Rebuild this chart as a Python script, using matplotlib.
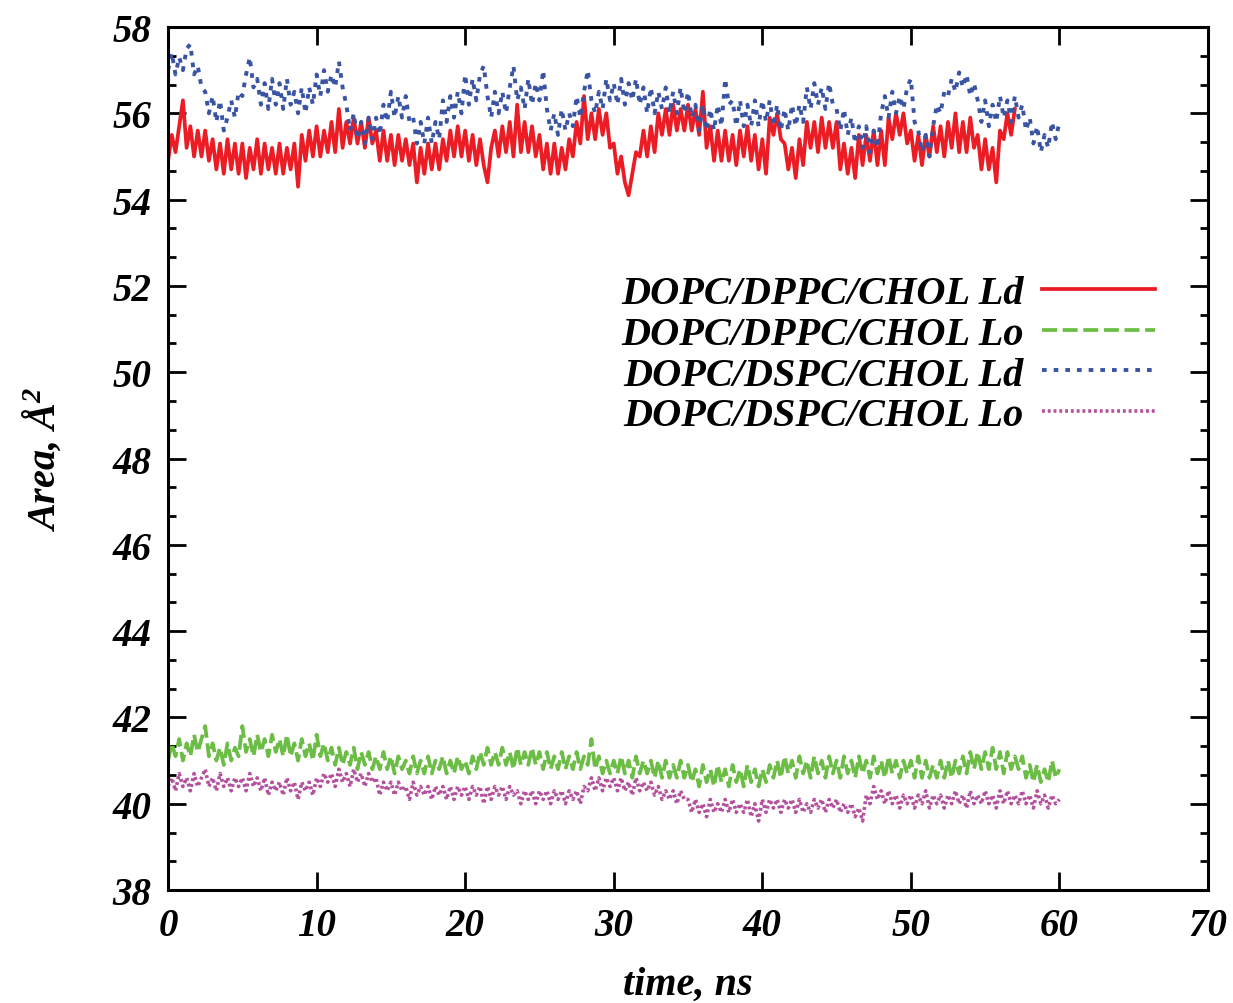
import numpy as np
import matplotlib
matplotlib.use('Agg')
import matplotlib.pyplot as plt
from matplotlib.ticker import AutoMinorLocator

plt.rcParams['font.family'] = ['Liberation Serif', 'DejaVu Serif']
plt.rcParams['font.weight'] = 'bold'
plt.rcParams['font.style'] = 'italic'
plt.rcParams['axes.labelweight'] = 'bold'
plt.rcParams['mathtext.fontset'] = 'custom'
plt.rcParams['mathtext.rm'] = 'Liberation Serif:bold:italic'
plt.rcParams['mathtext.it'] = 'Liberation Serif:bold:italic'

# area per lipid, sampled every 0.25 ns
ld_end = 57.0
run_end = 60.0

dppc_ld = [54.9, 55.5, 55.1, 55.7, 56.3, 55.2, 55.7, 55.0, 55.6, 55.0,
           55.6, 54.9, 55.4, 54.7, 55.3, 54.6, 55.4, 54.7, 55.3, 54.6,
           55.3, 54.5, 55.2, 54.7, 55.4, 54.6, 55.3, 54.7, 55.2, 54.6,
           55.3, 54.6, 55.2, 54.7, 55.3, 54.3, 55.5, 54.9, 55.6, 55.0,
           55.7, 55.0, 55.6, 55.1, 55.8, 55.1, 56.1, 55.2, 55.8, 55.3,
           55.9, 55.3, 55.8, 55.2, 55.9, 55.3, 55.6, 54.9, 55.6, 54.9,
           55.5, 54.8, 55.5, 54.9, 55.4, 54.8, 55.3, 54.4, 55.2, 54.6,
           55.3, 54.7, 55.3, 54.7, 55.4, 54.9, 55.6, 55.0, 55.7, 55.0,
           55.6, 54.9, 55.5, 54.8, 55.4, 54.8, 54.4, 55.2, 55.6, 55.0,
           55.7, 55.1, 55.8, 55.0, 56.2, 55.1, 55.8, 55.1, 55.7, 55.0,
           55.5, 54.7, 55.3, 54.6, 55.3, 54.6, 55.2, 54.7, 55.4, 55.0,
           55.8, 55.3, 56.4, 55.4, 56.0, 55.4, 56.1, 55.5, 56.0, 55.2,
           55.3, 54.6, 55.0, 54.4, 54.1, 54.6, 55.1, 55.0, 55.6, 55.0,
           55.7, 55.1, 56.0, 55.5, 56.1, 55.5, 56.2, 55.6, 56.1, 55.6,
           56.2, 55.6, 56.1, 55.5, 56.5, 55.2, 55.7, 54.9, 55.6, 54.9,
           55.6, 54.9, 55.5, 54.8, 55.6, 55.0, 55.7, 54.9, 55.5, 54.7,
           55.4, 54.6, 55.9, 55.5, 56.0, 55.4, 55.3, 54.7, 55.2, 54.5,
           55.4, 54.8, 55.8, 55.2, 55.8, 55.1, 55.9, 55.2, 55.8, 55.2,
           55.8, 54.7, 55.3, 54.6, 55.2, 54.5, 55.5, 54.8, 55.5, 54.9,
           55.6, 54.8, 55.6, 54.8, 55.9, 55.4, 56.0, 55.5, 56.0, 55.3,
           55.6, 54.9, 55.5, 54.8, 55.5, 55.0, 55.7, 55.1, 55.7, 55.0,
           55.8, 55.2, 56.0, 55.1, 55.8, 55.1, 55.9, 55.2, 55.5, 54.7,
           55.4, 54.7, 55.2, 54.4, 55.6, 55.4, 56.0, 55.5, 56.1]

dppc_lo = [41.0, 41.4, 41.1, 41.5, 41.0, 41.4, 41.1, 41.6, 41.2, 41.5,
           41.8, 41.1, 41.4, 41.0, 41.3, 40.9, 41.4, 41.0, 41.3, 41.1,
           41.8, 41.2, 41.5, 41.1, 41.6, 41.2, 41.5, 41.1, 41.6, 41.2,
           41.5, 41.1, 41.6, 41.1, 41.4, 41.0, 41.5, 41.1, 41.4, 41.0,
           41.6, 41.1, 41.4, 41.0, 41.3, 40.9, 41.3, 40.9, 41.2, 40.9,
           41.3, 40.8, 41.2, 40.9, 41.2, 40.8, 41.1, 40.8, 41.2, 40.8,
           41.1, 40.7, 41.1, 40.8, 41.0, 40.7, 41.1, 40.7, 41.0, 40.7,
           41.1, 40.7, 41.0, 40.8, 41.1, 40.7, 41.0, 40.7, 41.1, 40.8,
           41.0, 40.7, 41.1, 40.8, 41.2, 40.9, 41.3, 40.9, 41.2, 40.9,
           41.3, 40.9, 41.2, 40.8, 41.3, 40.9, 41.2, 40.9, 41.3, 40.9,
           41.2, 40.8, 41.2, 40.8, 41.1, 40.8, 41.2, 40.8, 41.1, 40.8,
           41.2, 40.8, 41.1, 40.9, 41.5, 40.8, 41.1, 40.7, 41.0, 40.7,
           41.0, 40.7, 41.1, 40.7, 41.0, 40.6, 41.1, 40.7, 41.0, 40.7,
           41.0, 40.6, 41.0, 40.6, 41.0, 40.6, 40.9, 40.6, 41.0, 40.6,
           40.9, 40.5, 40.8, 40.4, 40.9, 40.5, 40.8, 40.4, 40.9, 40.5,
           40.8, 40.4, 40.9, 40.5, 40.8, 40.4, 40.9, 40.5, 40.8, 40.4,
           40.8, 40.5, 40.9, 40.6, 41.0, 40.6, 41.1, 40.7, 41.0, 40.6,
           41.1, 40.7, 41.0, 40.6, 41.1, 40.7, 41.0, 40.6, 41.1, 40.7,
           41.0, 40.6, 41.1, 40.7, 41.0, 40.6, 41.1, 40.7, 41.0, 40.6,
           41.1, 40.7, 41.0, 40.6, 41.1, 40.7, 41.0, 40.6, 41.0, 40.7,
           41.0, 40.6, 41.1, 40.6, 41.0, 40.6, 40.9, 40.6, 41.0, 40.6,
           41.0, 40.6, 41.0, 40.7, 41.1, 40.7, 41.2, 40.8, 41.2, 40.8,
           41.2, 40.8, 41.3, 40.8, 41.2, 40.7, 41.2, 40.8, 41.1, 40.8,
           41.1, 40.6, 40.9, 40.5, 40.9, 40.5, 40.8, 40.5, 41.0, 40.6,
           40.8]

dspc_ld = [57.0, 57.4, 56.9, 57.3, 57.0, 57.5, 57.6, 56.9, 57.1, 56.6,
           56.5, 56.0, 56.4, 55.8, 56.3, 55.6, 55.9, 56.3, 55.9, 56.5,
           56.4, 56.9, 57.3, 56.6, 56.8, 56.2, 56.7, 56.1, 56.8, 56.2,
           56.7, 56.1, 56.8, 56.2, 56.5, 56.0, 56.6, 56.0, 56.6, 56.2,
           56.9, 56.4, 57.0, 56.5, 56.9, 56.6, 57.2, 56.6, 56.2, 55.6,
           56.0, 55.4, 55.8, 55.3, 55.9, 55.4, 55.9, 55.5, 56.2, 55.8,
           56.5, 55.9, 56.4, 55.9, 56.4, 55.8, 55.9, 55.3, 55.8, 55.3,
           55.9, 55.3, 55.8, 55.4, 56.3, 55.8, 56.4, 55.9, 56.5, 56.0,
           56.9, 56.2, 56.8, 56.3, 56.9, 57.1, 56.4, 55.9, 56.5, 56.0,
           56.5, 56.0, 56.6, 57.1, 56.3, 56.6, 56.1, 56.8, 56.2, 56.7,
           56.3, 57.0, 56.1, 55.6, 56.0, 55.5, 56.1, 55.6, 56.0, 55.7,
           56.4, 55.9, 56.5, 57.0, 56.3, 56.0, 56.5, 56.1, 56.8, 56.3,
           56.7, 56.2, 56.8, 56.2, 56.7, 56.3, 56.8, 56.2, 56.6, 56.0,
           56.6, 56.0, 56.5, 56.1, 56.6, 56.0, 56.5, 56.0, 56.6, 56.0,
           56.5, 55.9, 56.2, 55.6, 56.2, 55.6, 56.1, 55.6, 56.2, 55.7,
           56.8, 56.2, 56.3, 55.7, 56.3, 55.7, 56.2, 55.7, 56.3, 55.7,
           56.3, 55.8, 56.3, 55.7, 56.2, 55.6, 56.1, 55.6, 56.2, 55.7,
           56.2, 55.8, 56.6, 56.1, 56.7, 56.2, 56.6, 56.1, 56.7, 56.2,
           56.1, 55.6, 56.1, 55.5, 55.9, 55.3, 55.7, 55.2, 55.7, 55.1,
           55.6, 55.2, 56.0, 56.4, 55.9, 56.5, 56.0, 56.4, 56.1, 56.6,
           56.8, 55.8, 55.6, 55.1, 55.5, 55.0, 55.7, 56.2, 56.0, 56.5,
           56.4, 56.8, 56.5, 56.95, 56.6, 56.9, 56.4, 56.7, 56.3, 55.8,
           56.3, 55.7, 56.2, 55.8, 56.4, 55.9, 56.3, 55.8, 56.4, 55.9,
           56.2, 55.6, 55.9, 55.3, 55.7, 55.1, 55.5, 55.2, 55.8, 55.4,
           55.8]

dspc_lo = [40.4, 40.6, 40.3, 40.7, 40.4, 40.6, 40.3, 40.7, 40.4, 40.6,
           40.8, 40.4, 40.6, 40.3, 40.7, 40.4, 40.6, 40.3, 40.6, 40.4,
           40.6, 40.3, 40.7, 40.4, 40.6, 40.3, 40.6, 40.2, 40.5, 40.3,
           40.5, 40.2, 40.6, 40.3, 40.5, 40.1, 40.5, 40.3, 40.5, 40.2,
           40.6, 40.4, 40.7, 40.5, 40.7, 40.4, 40.8, 40.5, 40.7, 40.4,
           40.8, 40.5, 40.7, 40.4, 40.7, 40.5, 40.6, 40.2, 40.5, 40.3,
           40.5, 40.2, 40.5, 40.3, 40.4, 40.1, 40.5, 40.2, 40.4, 40.2,
           40.4, 40.1, 40.4, 40.2, 40.4, 40.1, 40.4, 40.1, 40.4, 40.2,
           40.4, 40.1, 40.4, 40.2, 40.4, 40.0, 40.4, 40.1, 40.4, 40.2,
           40.4, 40.1, 40.4, 40.2, 40.3, 40.0, 40.3, 40.1, 40.3, 40.0,
           40.3, 40.1, 40.3, 40.0, 40.3, 40.1, 40.3, 40.0, 40.3, 40.1,
           40.3, 40.0, 40.4, 40.3, 40.6, 40.3, 40.6, 40.3, 40.6, 40.4,
           40.6, 40.3, 40.6, 40.3, 40.5, 40.2, 40.6, 40.3, 40.5, 40.3,
           40.5, 40.2, 40.4, 40.1, 40.3, 40.1, 40.3, 40.0, 40.3, 40.1,
           40.1, 39.8, 40.1, 39.8, 40.0, 39.7, 40.1, 39.8, 40.0, 39.8,
           40.1, 39.8, 40.1, 39.8, 40.0, 39.8, 40.1, 39.7, 40.0, 39.6,
           40.1, 39.8, 40.1, 39.9, 40.1, 39.8, 40.1, 39.9, 40.1, 39.8,
           40.1, 39.8, 40.0, 39.8, 40.1, 39.9, 40.1, 39.8, 40.1, 39.9,
           40.1, 39.8, 40.0, 39.8, 40.0, 39.7, 39.9, 39.6, 40.2, 40.0,
           40.4, 40.1, 40.3, 40.0, 40.3, 40.0, 40.2, 39.9, 40.2, 40.0,
           40.2, 39.9, 40.2, 40.0, 40.3, 39.9, 40.2, 40.0, 40.2, 39.9,
           40.2, 40.0, 40.3, 40.0, 40.2, 39.9, 40.3, 40.0, 40.2, 40.0,
           40.3, 40.0, 40.2, 39.9, 40.3, 40.0, 40.3, 40.0, 40.2, 40.0,
           40.3, 40.0, 40.2, 39.9, 40.3, 40.0, 40.2, 39.9, 40.2, 40.0,
           40.1]

labels = ['DOPC/DPPC/CHOL Ld', 'DOPC/DPPC/CHOL Lo',
          'DOPC/DSPC/CHOL Ld', 'DOPC/DSPC/CHOL Lo']
xticks = [0, 10, 20, 30, 40, 50, 60, 70]
yticks = [38, 40, 42, 44, 46, 48, 50, 52, 54, 56, 58]

fig = plt.figure(figsize=(12.33, 10.04), dpi=100)
ax = fig.add_axes([0.1363, 0.1125, 0.8434, 0.8596])

t_ld = np.linspace(0, ld_end, len(dppc_ld))
t_lo = np.linspace(0, run_end, len(dppc_lo))
t_dspc = np.linspace(0, run_end, len(dspc_ld))
t_dspc_lo = np.linspace(0, run_end, len(dspc_lo))

ax.plot(t_ld, dppc_ld, color='#ec1c24', lw=2.7, ls='-', label=labels[0])
ax.plot(t_lo, dppc_lo, color='#6cbd45', lw=2.7, ls=(0, (4, 1.5)), label=labels[1])
ax.plot(t_dspc, dspc_ld, color='#3a54a4', lw=2.8, ls=(0, (1.2, 1.8)), label=labels[2])
ax.plot(t_dspc_lo, dspc_lo, color='#b4519e', lw=2.6, ls=(0, (0.8, 0.8)), label=labels[3])

ax.set_xlim(0, 70)
ax.set_ylim(38, 58)
tick_font = dict(fontsize=28, fontstyle='italic', fontweight='bold')
ax.set_xticks(xticks, labels=[str(v) for v in xticks], **tick_font)
ax.set_yticks(yticks, labels=[str(v) for v in yticks], **tick_font)
ax.yaxis.set_minor_locator(AutoMinorLocator(3))
ax.tick_params(which='both', direction='in', top=True, right=True, width=2)
ax.tick_params(which='major', length=13, pad=12)
ax.tick_params(which='minor', length=6)
for s in ax.spines.values():
    s.set_linewidth(2.2)

ax.set_xlabel('time, ns', fontsize=29)
ax.set_ylabel('Area, Å$^{2}$', fontsize=29)
ax.xaxis.set_label_coords(0.5, -0.088)
ax.yaxis.set_label_coords(-0.1, 0.5)

leg = ax.legend(loc='upper right', bbox_to_anchor=(0.949, 0.713),
                frameon=False, markerfirst=False, fontsize=29,
                handlelength=2.8, handletextpad=0.45, labelspacing=0.09,
                borderpad=0, borderaxespad=0)

fig.savefig('out.png', dpi=100)
